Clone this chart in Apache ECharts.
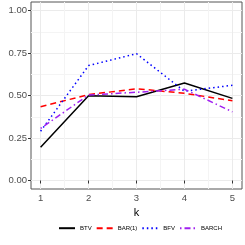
<!DOCTYPE html>
<html><head><meta charset="utf-8">
<script src="https://cdn.jsdelivr.net/npm/echarts@6/dist/echarts.min.js"></script>
<style>html,body{margin:0;padding:0;background:#fff}#c{width:245px;height:245px}</style>
</head><body><div id="c"></div>
<script>
const kValues = [1, 2, 3, 4, 5];
const btv = [0.195, 0.499, 0.493, 0.574, 0.483];
const bar1 = [0.434, 0.505, 0.540, 0.513, 0.469];
const bfv = [0.290, 0.676, 0.746, 0.525, 0.560];
const barch = [0.306, 0.503, 0.519, 0.537, 0.404];
const xMajor = [1, 2, 3, 4, 5];
const xMinor = [1.5, 2.5, 3.5, 4.5];
const yMajor = [0, 0.25, 0.5, 0.75, 1];
const yMinor = [0.125, 0.375, 0.625, 0.875];
const yLabels = ['0.00', '0.25', '0.50', '0.75', '1.00'];

const chart = echarts.init(document.getElementById('c'), null, {renderer: 'canvas'});
const grid = {left: 31, top: 2, width: 211, height: 187, show: true, borderColor: '#555', borderWidth: 1};
const gridColor = '#ebebeb';
function mk(series, name, color, type, width) {
  return {name, type: 'line', data: kValues.map((k, i) => [k, series[i]]), symbol: 'none',
    lineStyle: {color, type, width}, itemStyle: {color}, z: 5};
}
chart.setOption({
  animation: false,
  grid: grid,
  xAxis: [
    {type: 'value', min: 0.8, max: 5.2,
     axisLine: {show: false},
     axisTick: {show: true, customValues: xMajor, length: 3, lineStyle: {color: '#333'}},
     axisLabel: {customValues: xMajor, color: '#4d4d4d', fontSize: 9.5, fontFamily: 'Liberation Sans', margin: 4},
     splitLine: {show: true, lineStyle: {color: gridColor, width: 1}},
     name: 'k', nameLocation: 'middle', nameGap: 11,
     nameTextStyle: {color: '#000', fontSize: 11, fontFamily: 'Liberation Sans'}},
    {type: 'value', min: 0.8, max: 5.2, gridIndex: 0, position: 'bottom',
     axisLine: {show: false}, axisTick: {show: false, customValues: xMinor},
     axisLabel: {show: false, customValues: xMinor},
     splitLine: {show: true, lineStyle: {color: '#f4f4f4', width: 1}}}
  ],
  yAxis: [
    {type: 'value', min: -0.05, max: 1.05,
     axisLine: {show: false},
     axisTick: {show: true, customValues: yMajor, length: 3, lineStyle: {color: '#333'}},
     axisLabel: {customValues: yMajor, color: '#4d4d4d', fontSize: 9.5, fontFamily: 'Liberation Sans', margin: 4,
       formatter: v => yLabels[yMajor.indexOf(Math.round(v * 1000) / 1000)] ?? ''},
     splitLine: {show: true, lineStyle: {color: gridColor, width: 1}}},
    {type: 'value', min: -0.05, max: 1.05, position: 'left',
     axisLine: {show: false}, axisTick: {show: false, customValues: yMinor},
     axisLabel: {show: false, customValues: yMinor},
     splitLine: {show: true, lineStyle: {color: '#f4f4f4', width: 1}}}
  ],
  legend: {top: 225, left: 58, padding: 0, itemWidth: 16, itemHeight: 8, itemGap: 4,
    itemStyle: {opacity: 0},
    textStyle: {fontSize: 6, color: '#000', fontFamily: 'Liberation Sans'},
    data: ['BTV', 'BAR(1)', 'BFV', 'BARCH']},
  series: [
    mk(btv, 'BTV', '#000000', 'solid', 1.5),
    mk(bar1, 'BAR(1)', '#ff0000', [6, 4], 1.5),
    mk(bfv, 'BFV', '#0000ff', [1.5, 3], 1.5),
    mk(barch, 'BARCH', '#a020f0', [1.5, 3, 6, 3], 1.5)
  ]
});
</script></body></html>
